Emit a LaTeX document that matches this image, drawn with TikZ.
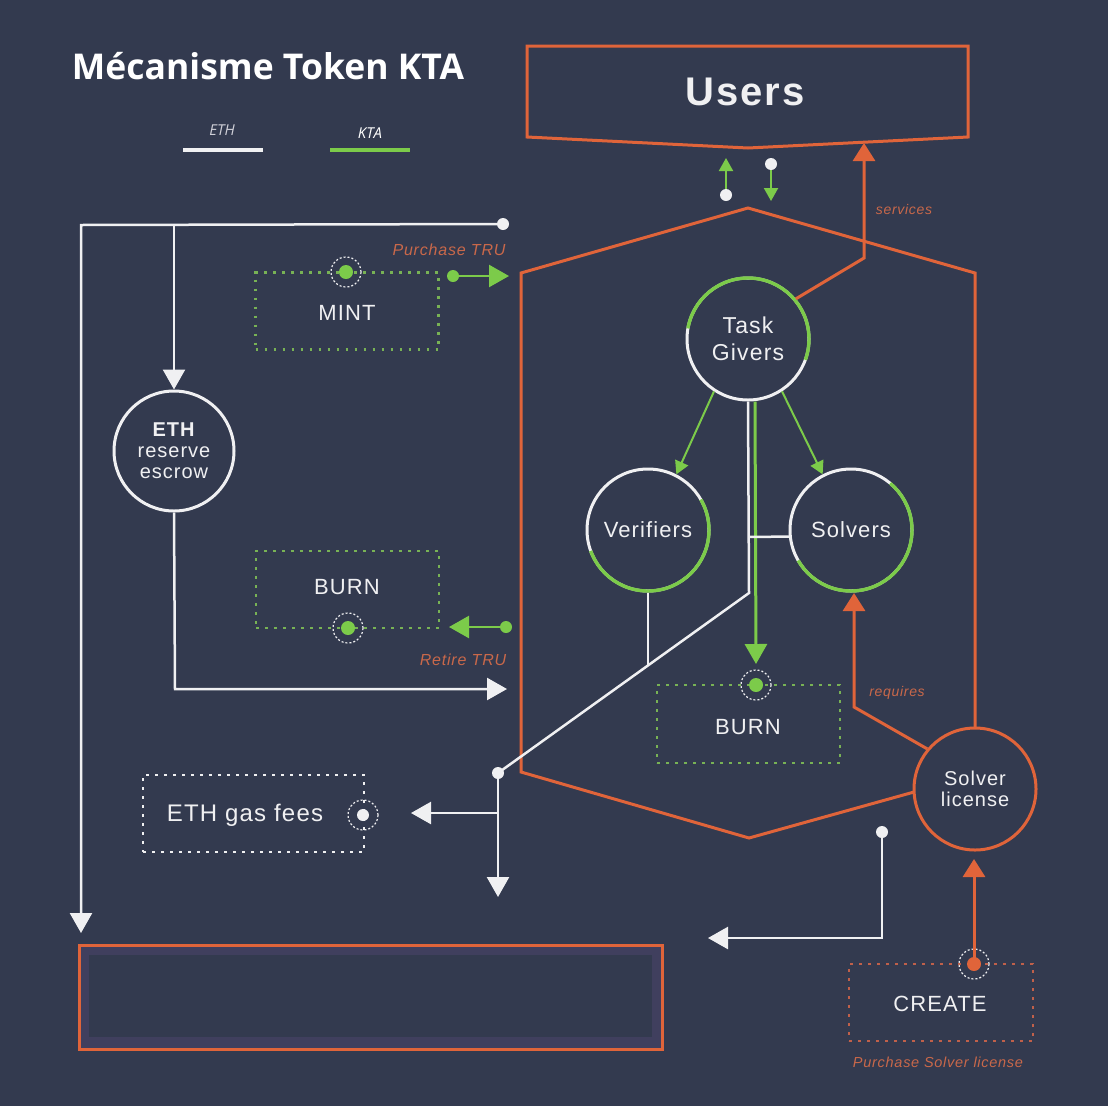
\documentclass[tikz,border=0pt]{standalone}
\usepackage{fontspec}
\setmainfont{Liberation Sans}
\newfontfamily\titlef{Open Sans}
\newfontfamily\dfont[LetterSpace=5]{Liberation Sans}
\usetikzlibrary{arrows.meta,calc}
\definecolor{bg}{HTML}{333A4F}
\definecolor{org}{HTML}{E0643A}
\definecolor{orgtxt}{HTML}{C9684A}
\definecolor{grn}{HTML}{7CCB4A}
\definecolor{grndot}{HTML}{78B255}
\definecolor{orgdot}{HTML}{C0604A}
\definecolor{wht}{HTML}{F0F0F2}
\definecolor{boxin}{HTML}{403F5E}
\definecolor{legtxt}{HTML}{D0D0D8}
\begin{document}
\begin{tikzpicture}[x=1pt,y=-1pt,
  wline/.style={draw=wht, line width=2.5pt},
  gline/.style={draw=grn, line width=2pt},
  oline/.style={draw=org, line width=3pt},
  bigtip/.style={-{Triangle[length=20pt,width=22pt]}},
  smalltip/.style={-{Triangle[length=13pt,width=14pt]}},
  otip/.style={-{Triangle[length=18pt,width=22pt]}},
  dotbox/.style={draw=#1, line width=2.8pt, dash pattern=on 2.8pt off 6.2pt, inner sep=0pt},
  kdot/.style={circle, fill=#1, inner sep=0pt, minimum size=14pt},
  wdot/.style={circle, fill=wht, inner sep=0pt, minimum size=12pt},
  ringd/.style={circle, draw=wht, line width=1.2pt, dash pattern=on 2pt off 2pt, inner sep=0pt, minimum size=30pt},
  bubble/.style={circle, draw=wht, line width=3pt, fill=bg, inner sep=0pt, minimum size=122pt, text=wht, align=center},
  garc/.style={draw=grn, line width=3.4pt},
  dtext/.style={text=wht, font=\dfont\fontsize{22}{26}\selectfont},
  lab/.style={text=orgtxt, font=\dfont\itshape\fontsize{16}{19}\selectfont}
]
\fill[bg] (0,0) rectangle (1108,1106);
\useasboundingbox (0,0) rectangle (1108,1106);

% title and legend
\node[text=white, font=\titlef\bfseries\fontsize{35.5}{40}\selectfont] (title) at (268,66) {Mécanisme Token KTA};
\node[text=legtxt, font=\titlef\itshape\fontsize{15}{18}\selectfont] (legeth) at (222,130) {ETH};
\node[text=white, font=\titlef\itshape\fontsize{15}{18}\selectfont] (legkta) at (370,133) {KTA};
\coordinate (le1) at (183,150); \coordinate (le2) at (263,150);
\coordinate (lk1) at (330,150); \coordinate (lk2) at (410,150);
\draw[wht, line width=4pt] (le1) -- (le2);
\draw[grn, line width=4pt] (lk1) -- (lk2);

% Users box
\draw[oline] (527,46) -- (968,46) -- (968,137) -- (748,148) -- (527,137) -- cycle;
\node[text=wht, font=\dfont\bfseries\fontsize{40}{44}\selectfont] (users) at (745,92) {Users};

% hexagon
\draw[oline, line join=miter] (748,208) -- (975,273) -- (975,775) -- (749,838) -- (521,772) -- (521,273) -- cycle;

% bottom box
\node[draw=org, fill=boxin, line width=3pt, minimum width=583pt, minimum height=104pt, inner sep=0pt] (vault) at (370.5,997) {};
\node[fill=bg, minimum width=563pt, minimum height=82pt, inner sep=0pt] (vaultin) at (370.5,996) {};

% circles
\node[bubble, font=\dfont\fontsize{23}{27}\selectfont] (tg) at (748,339) {Task\\Givers};
\begin{scope}
  \clip (tg.center) -- (862.6,380.7) -- (853.7,278) -- (748,217) -- (642.3,278) -- (627.9,317.8) -- cycle;
  \draw[garc] (tg.center) circle[radius=61pt];
\end{scope}
\node[bubble, font=\dfont\fontsize{22}{26}\selectfont] (ver) at (648,530) {Verifiers};
\begin{scope}
  \clip (ver.center) -- (753.7,469) -- (762.6,571.7) -- (689.7,644.7) -- (587,635.7) -- (533.4,571.7) -- cycle;
  \draw[garc] (ver.center) circle[radius=61pt];
\end{scope}
\node[bubble, font=\dfont\fontsize{22}{26}\selectfont] (sol) at (851,530) {Solvers};
\begin{scope}
  \clip (sol.center) -- (929.4,436.5) -- (973,530) -- (929.4,623.5) -- (829.8,650.2) -- (745.3,591) -- cycle;
  \draw[garc] (sol.center) circle[radius=61pt];
\end{scope}
\node[bubble, minimum size=120pt, font=\dfont\fontsize{20}{21}\selectfont] (esc) at (174,451) {\textbf{ETH}\\reserve\\escrow};
\node[bubble, draw=org, font=\dfont\fontsize{20}{21}\selectfont] (sl) at (975,789) {Solver\\license};

% boxes
\node[dotbox=grndot, minimum width=183pt, minimum height=77pt] (mint) at (347,311) {};
\node[dtext] (minttxt) at (347,313) {MINT};
\node[dotbox=grndot, minimum width=183pt, minimum height=77pt] (burn1) at (347.5,589.5) {};
\node[dtext] (burn1txt) at (347,587) {BURN};
\node[dotbox=grndot, minimum width=183pt, minimum height=78pt] (burn2) at (748.5,724) {};
\node[dtext] (burn2txt) at (748,727) {BURN};
\node[dotbox=wht, minimum width=221pt, minimum height=77pt] (gas) at (253.5,813.5) {};
\node[dtext, font=\dfont\fontsize{24}{28}\selectfont] (gastxt) at (245,815) {ETH gas fees};
\node[dotbox=orgdot, minimum width=184pt, minimum height=77pt] (create) at (941,1002.5) {};
\node[dtext] (createtxt) at (940,1004) {CREATE};

% token dots with rings
\node[kdot=grn] (mintd) at (346,272) {};
\node[ringd] (mintr) at (346,272) {};
\node[kdot=grn] (burn1d) at (348,628) {};
\node[ringd] (burn1r) at (348,628) {};
\node[kdot=grn] (burn2d) at (756,685) {};
\node[ringd] (burn2r) at (756,685) {};
\node[kdot=wht, minimum size=12pt] (gasd) at (363,815) {};
\node[ringd] (gasr) at (363,815) {};
\node[kdot=org] (created) at (974,964) {};
\node[ringd] (creater) at (974,964) {};

% Users small arrows
\node[wdot] (u1) at (726,195) {};
\coordinate (u1t) at (726,158);
\draw[gline, smalltip] (u1) -- (u1t);
\node[wdot] (u2) at (771,164) {};
\coordinate (u2t) at (771,201);
\draw[gline, smalltip] (u2) -- (u2t);

% ETH feed (left)
\node[wdot] (feed) at (503,224) {};
\coordinate (fc) at (81,225);
\coordinate (fb) at (174,225);
\coordinate (vaultarr) at (81,933);
\draw[wline, bigtip] (feed.center) -- (fc) -- (vaultarr);
\draw[wline, bigtip] (fb) -- (esc.north);
\coordinate (escb) at (175,689);
\coordinate (esct) at (507,689);
\draw[wline, bigtip] (esc.south) -- (escb) -- (esct);

% MINT arrow
\node[kdot=grn, minimum size=12pt] (mintsrc) at (453,276) {};
\coordinate (mintt) at (509,276);
\draw[grn, line width=2.5pt, bigtip] (mintsrc.center) -- (mintt);
\node[lab] (plab) at (449,250) {Purchase TRU};

% BURN left arrow
\node[kdot=grn, minimum size=12pt] (retsrc) at (506,627) {};
\coordinate (rett) at (449,627);
\draw[grn, line width=2.5pt, bigtip] (retsrc.center) -- (rett);
\node[lab] (rlab) at (463,660) {Retire TRU};

% Task givers connections
\draw[gline, smalltip] (tg.-123) -- (ver.63);
\draw[gline, smalltip] (tg.-57) -- (sol.117);
\coordinate (gtop) at ($(tg.south)+(7,0)$);
\coordinate (gtip) at (756,664);
\draw[grn, line width=3pt, bigtip] (gtop) -- (gtip);

% white trunk
\node[wdot] (wd) at (498,773) {};
\coordinate (bend) at (749,593);
\coordinate (j0) at (749,537);
\coordinate (j1) at (648,665);
\draw[wline] (tg.south) -- (bend) -- (wd.center);
\draw[wline] (j0) -- (sol.186.6);
\draw[wline] (ver.south) -- (j1);
\coordinate (wdown) at (498,897);
\coordinate (wbr) at (498,813);
\coordinate (wleft) at (411,813);
\draw[wline, bigtip] (wd.center) -- (wdown);
\draw[wline, bigtip] (wbr) -- (wleft);

% services
\coordinate (sv1) at (864,258);
\coordinate (sv2) at (864,143);
\draw[oline, otip] (tg.40) -- (sv1) -- (sv2);
\node[lab, font=\dfont\itshape\fontsize{14}{17}\selectfont] (svlab) at (904,209) {services};

% requires
\coordinate (rq1) at (854,707);
\coordinate (rq2) at (854,593);
\draw[oline, otip] (sl.140) -- (rq1) -- (rq2);
\node[lab, font=\dfont\itshape\fontsize{14}{17}\selectfont] (rqlab) at (897,693) {requires};

% create
\coordinate (crt) at (974,859);
\draw[oline, otip] (created.center) -- (crt);
\node[lab, font=\dfont\itshape\fontsize{14.5}{17}\selectfont] (clab) at (938,1062) {Purchase Solver license};

% bottom-right white
\node[wdot] (w3) at (882,832) {};
\coordinate (w3b) at (882,938);
\coordinate (w3t) at (708,938);
\draw[wline, bigtip] (w3.center) -- (w3b) -- (w3t);
\end{tikzpicture}
\end{document}
